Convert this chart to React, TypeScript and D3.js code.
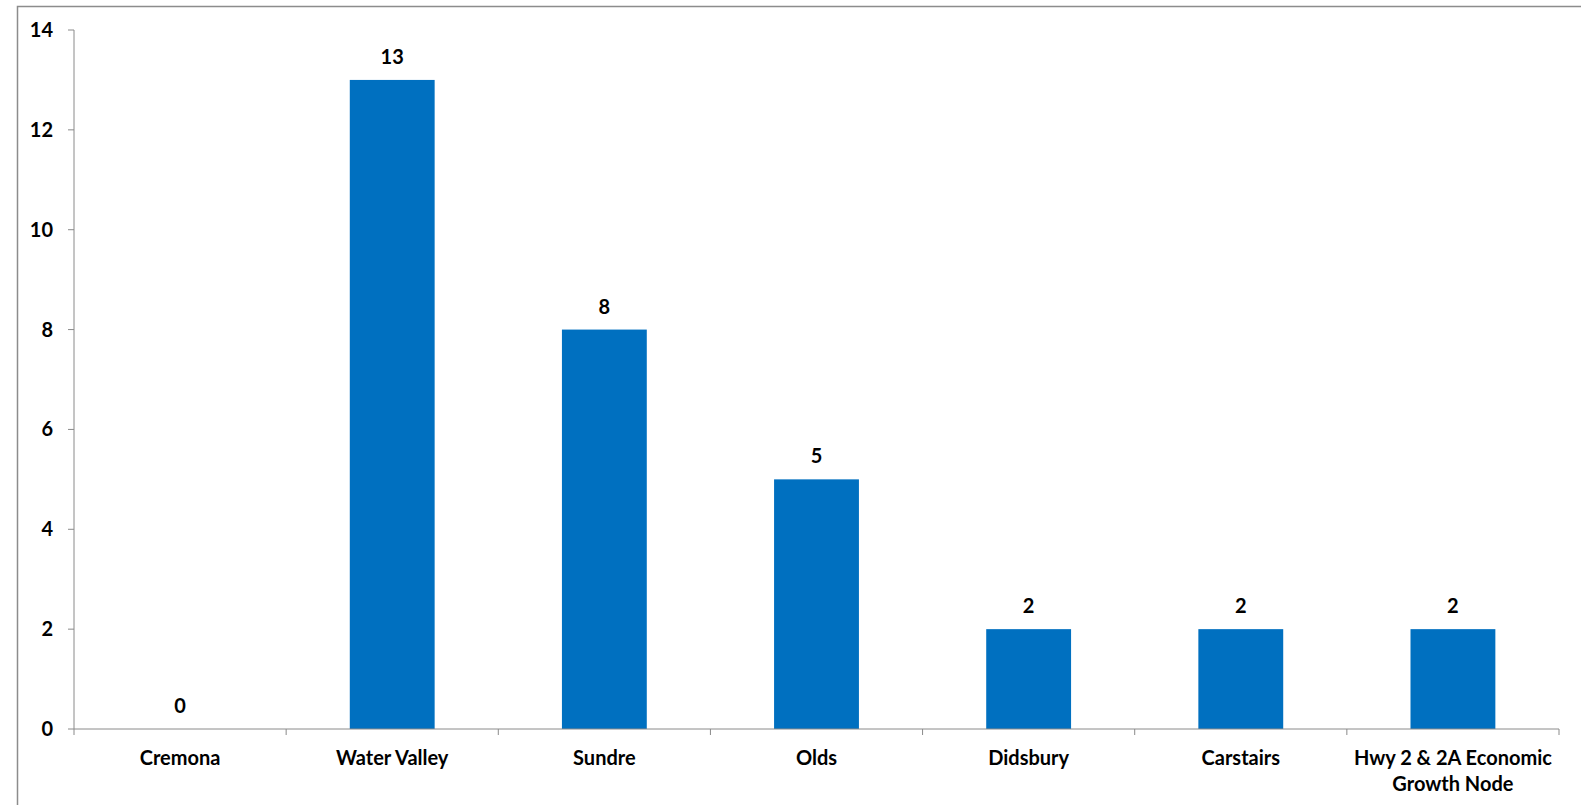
import React from "react";
import * as d3 from "d3";

const categories: string[][] = [
  ["Cremona"],
  ["Water Valley"],
  ["Sundre"],
  ["Olds"],
  ["Didsbury"],
  ["Carstairs"],
  ["Hwy 2 & 2A Economic", "Growth Node"],
];
const values: number[] = [0, 13, 8, 5, 2, 2, 2];
const yTicks: number[] = [0, 2, 4, 6, 8, 10, 12, 14];

const W = 1581;
const H = 805;
const left = 74;
const right = 1559;
const top = 30;
const bottom = 729;
const FONT = "Lato, 'Open Sans', sans-serif";
const FS = 20;

export default function App() {
  const keys = categories.map((c) => c.join(" "));
  const x = d3.scaleBand<string>().domain(keys).range([left, right]).paddingInner(0.6).paddingOuter(0.3);
  const y = d3.scaleLinear().domain([0, 14]).range([bottom, top]);
  const step = (right - left) / categories.length;
  const boundaries = d3.range(categories.length + 1).map((i) => left + i * step);

  return (
    <svg width={W} height={H} style={{ position: "absolute", left: 0, top: 0, background: "#fff" }}>
      <rect x={17.5} y={6.5} width={W + 20} height={H + 20} fill="#fff" stroke="#8c8c8c" strokeWidth={1.5} />
      {/* y axis */}
      <line x1={left} x2={left} y1={y(14)} y2={bottom} stroke="#8a8a8a" strokeWidth={1} />
      {yTicks.map((t) => (
        <g key={t}>
          <line x1={left - 6} x2={left} y1={y(t)} y2={y(t)} stroke="#8a8a8a" />
          <text x={53} y={y(t)} dy="0.35em" textAnchor="end" fontFamily={FONT} fontWeight={700} fontSize={FS} fill="#000">
            {t}
          </text>
        </g>
      ))}
      {/* bars */}
      {values.map((v, i) => (
        <rect key={i} x={x(keys[i])} y={y(v)} width={x.bandwidth()} height={bottom - y(v)} fill="#0070C0" />
      ))}
      {/* x axis */}
      <line x1={left} x2={right} y1={bottom} y2={bottom} stroke="#8a8a8a" />
      {boundaries.map((b, i) => (
        <line key={i} x1={b} x2={b} y1={bottom} y2={bottom + 6} stroke="#8a8a8a" />
      ))}
      {/* value labels */}
      {values.map((v, i) => (
        <text
          key={i}
          x={(x(keys[i]) as number) + x.bandwidth() / 2}
          y={y(v) - 16}
          textAnchor="middle"
          fontFamily={FONT}
          fontWeight={700}
          fontSize={FS}
          fill="#000"
        >
          {v}
        </text>
      ))}
      {/* category labels */}
      {categories.map((lines, i) => (
        <text
          key={i}
          x={(x(keys[i]) as number) + x.bandwidth() / 2}
          textAnchor="middle"
          fontFamily={FONT}
          fontWeight={700}
          fontSize={FS}
          fill="#000"
        >
          {lines.map((l, j) => (
            <tspan key={j} x={(x(keys[i]) as number) + x.bandwidth() / 2} y={765 + j * 26}>
              {l}
            </tspan>
          ))}
        </text>
      ))}
    </svg>
  );
}
